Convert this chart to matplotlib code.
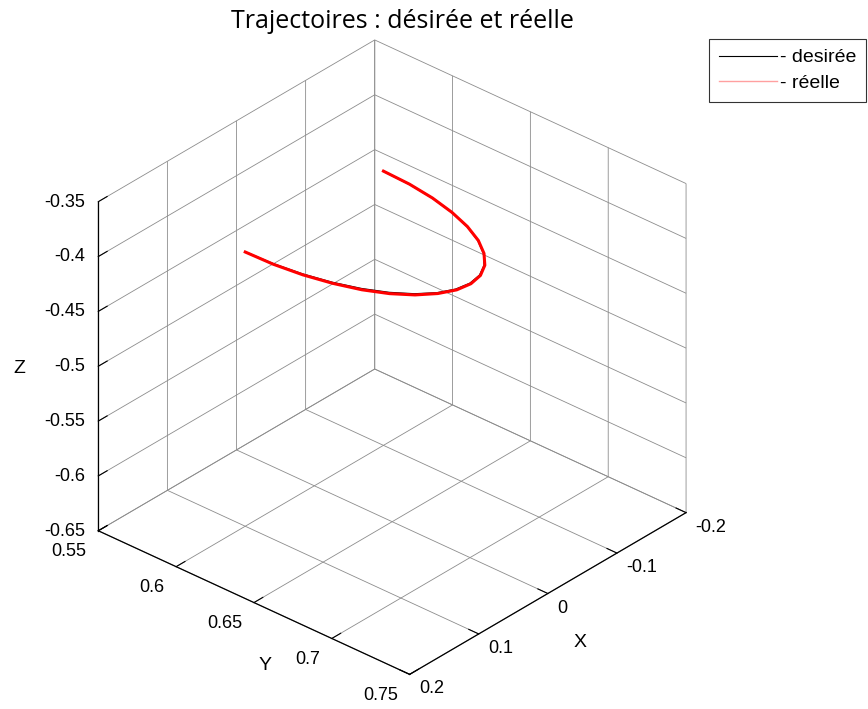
import matplotlib

matplotlib.use("Agg")
import matplotlib.pyplot as plt

x_des = [0.100, 0.0985, 0.0940, 0.0866, 0.0766, 0.0643, 0.0500, 0.0342, 0.0174, 0.000,
         -0.0174, -0.0342, -0.0500, -0.0643, -0.0766, -0.0866, -0.0940, -0.0985, -0.100]
y_des = [0.600, 0.6174, 0.6342, 0.6500, 0.6643, 0.6766, 0.6866, 0.6940, 0.6985, 0.700,
         0.6985, 0.6940, 0.6866, 0.6766, 0.6643, 0.6500, 0.6342, 0.6174, 0.600]
z_des = [-0.400] * len(x_des)

# Trajectoire réelle (petits écarts autour de la consigne)
x_ree = [0.100, 0.0987, 0.0942, 0.0868, 0.0769, 0.0646, 0.0503, 0.0340, 0.0170, -0.0004,
         -0.0178, -0.0345, -0.0502, -0.0645, -0.0768, -0.0867, -0.0941, -0.0986, -0.100]
y_ree = [0.600, 0.6176, 0.6345, 0.6503, 0.6647, 0.6770, 0.6870, 0.6944, 0.6990, 0.7004,
         0.6988, 0.6942, 0.6867, 0.6767, 0.6642, 0.6499, 0.6341, 0.6173, 0.600]
z_ree = [-0.400, -0.4002, -0.4004, -0.4005, -0.4006, -0.4006, -0.4005, -0.4004, -0.4003, -0.4002,
         -0.4001, -0.4000, -0.3999, -0.3999, -0.3999, -0.4000, -0.4000, -0.4000, -0.400]

x_ticks = [-0.2, -0.1, 0, 0.1, 0.2]
x_labels = ["-0.2", "-0.1", "0", "0.1", "0.2"]
y_ticks = [0.55, 0.6, 0.65, 0.7, 0.75]
y_labels = ["0.55", "0.6", "0.65", "0.7", "0.75"]
z_ticks = [-0.65, -0.6, -0.55, -0.5, -0.45, -0.4, -0.35]
z_labels = ["-0.65", "-0.6", "-0.55", "-0.5", "-0.45", "-0.4", "-0.35"]

plt.rcParams["font.family"] = "Liberation Sans"
GRIS = "#8c8c8c"

fig = plt.figure(figsize=(8.68, 7.09), dpi=100)
ax = fig.add_axes([-0.029, -0.007, 0.94, 0.98], projection="3d")
ax.set_proj_type("ortho")
ax.view_init(elev=31.3, azim=41.6)
ax.set_box_aspect((1, 1, 0.925), zoom=0.983)

ax.plot(x_des, y_des, z_des, color="black", lw=1.2, label="- desirée", zorder=3)
ax.plot(x_ree, y_ree, z_ree, color="red", lw=2.2, label="- réelle", zorder=4)

ax.set_xlim(-0.2, 0.2)
ax.set_ylim(0.55, 0.75)
ax.set_zlim(-0.65, -0.35)
ax.set_xticks(x_ticks, x_labels)
ax.set_yticks(y_ticks, y_labels)
ax.set_zticks(z_ticks, z_labels)

for axis in (ax.xaxis, ax.yaxis, ax.zaxis):
    axis.set_pane_color((1, 1, 1, 0))
    axis.pane.set_edgecolor(GRIS)
    axis.line.set_color("black")
    axis.line.set_linewidth(0.9)
    axis._axinfo["grid"].update(color=GRIS, linewidth=0.6, linestyle="-")
    axis._axinfo["tick"].update(inward_factor=0.0, outward_factor=0.4)
    axis.set_tick_params(labelsize=13, colors="black", width=0.9)

# libellés à gauche/droite des graduations
ax.xaxis.set_tick_params(pad=0)
ax.yaxis.set_tick_params(pad=3)
ax.zaxis.set_tick_params(pad=-2)
for lab in ax.get_xticklabels():
    lab.set(ha="left", va="center")
for lab in ax.get_yticklabels():
    lab.set(ha="right", va="center")
for lab in ax.get_zticklabels():
    lab.set(ha="right", va="center")

ax.set_xlabel("X", fontsize=14, labelpad=6)
ax.set_zlabel("Z", fontsize=14, labelpad=14)
fig.text(0.305, 0.062, "Y", ha="center", va="center", fontsize=14)

fig.text(0.464, 0.969, "Trajectoires : désirée et réelle", ha="center", va="center",
         fontsize=18, family="Open Sans")

leg = fig.legend(loc="upper right", bbox_to_anchor=(0.998, 0.945), borderaxespad=0,
                 frameon=True, fancybox=False, edgecolor="black", fontsize=14,
                 handlelength=3.0, handletextpad=0.15, borderpad=0.5, labelspacing=0.42)
leg.get_frame().set_linewidth(0.8)
leg.get_lines()[0].set_linewidth(0.8)
leg.get_lines()[1].set_linewidth(1.0)
leg.get_lines()[1].set_color("#ffa0a0")

fig.savefig("out.png", dpi=100)
